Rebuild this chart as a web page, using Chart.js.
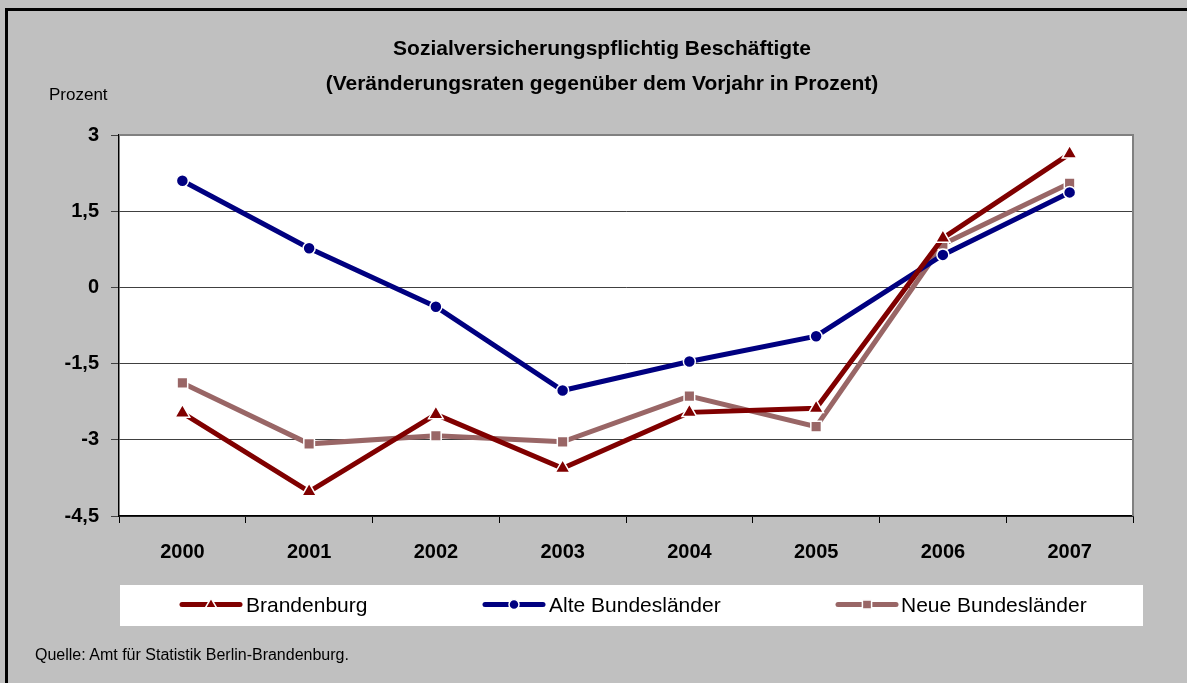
<!DOCTYPE html>
<html>
<head>
<meta charset="utf-8">
<script src="https://cdn.jsdelivr.net/npm/chart.js@4/dist/chart.umd.min.js"></script>
<style>
    body { margin: 0; background: #c0c0c0; font-family: "Liberation Sans Narrow", "Arial Narrow", "Liberation Sans", sans-serif; }
    #wrap { position: relative; width: 1187px; height: 683px; overflow: hidden; }
    canvas { position: absolute; left: 0; top: 0; }
    .txt { position: absolute; white-space: nowrap; color: #000; line-height: 1; }
    .title { left: 0; width: 1204px; text-align: center; font-size: 21px; font-weight: bold; }
    .leg { font-size: 21px; }
</style>
</head>
<body>
<div id="wrap">
    <canvas id="chart" width="1187" height="683"></canvas>
    <div class="txt title" style="top:37px">Sozialversicherungspflichtig Beschäftigte</div>
    <div class="txt title" style="top:72px">(Veränderungsraten gegenüber dem Vorjahr in Prozent)</div>
    <div class="txt" style="left:49px; top:86px; font-size:17px">Prozent</div>
    <div class="txt leg" style="left:246px; top:594px">Brandenburg</div>
    <div class="txt leg" style="left:549px; top:594px">Alte Bundesländer</div>
    <div class="txt leg" style="left:901px; top:594px">Neue Bundesländer</div>
    <div class="txt" style="left:35px; top:647px; font-size:16px">Quelle: Amt für Statistik Berlin-Brandenburg.</div>
</div>
<script>
// Sozialversicherungspflichtig Beschäftigte, Veränderung zum Vorjahr (%)
const years = ['2000', '2001', '2002', '2003', '2004', '2005', '2006', '2007'];
const brandenburg = [-2.47, -4.02, -2.5, -3.56, -2.46, -2.38, 0.97, 2.63];
const alteLaender = [2.1, 0.77, -0.38, -2.03, -1.46, -0.96, 0.64, 1.87];
const neueLaender = [-1.88, -3.08, -2.92, -3.04, -2.14, -2.74, 0.85, 2.05];

const FONT = '"Liberation Sans Narrow", "Arial Narrow", "Liberation Sans", sans-serif';

// legend sample positions (line start x) for each series
const legendSamples = [
    { x: 182, color: '#800000', style: 'triangle', r: 6.5 },
    { x: 485, color: '#000080', style: 'circle', r: 5 },
    { x: 838, color: '#996666', style: 'rect', r: 6.5 }
];

const framePlugin = {
    id: 'frame',
    beforeDraw(chart) {
        const ctx = chart.ctx;
        const a = chart.chartArea;
        ctx.save();
        ctx.fillStyle = '#c0c0c0';
        ctx.fillRect(0, 0, chart.width, chart.height);
        // outer black border
        ctx.strokeStyle = '#000';
        ctx.lineWidth = 3;
        ctx.beginPath();
        ctx.moveTo(6.5, chart.height + 5);
        ctx.lineTo(6.5, 9.5);
        ctx.lineTo(chart.width + 5, 9.5);
        ctx.stroke();
        // plot area
        ctx.fillStyle = '#fff';
        ctx.fillRect(a.left, a.top, a.right - a.left, a.bottom - a.top);
        // legend box
        ctx.fillRect(120, 585, 1023, 41);
        ctx.restore();
    },
    beforeDatasetsDraw(chart) {
        const ctx = chart.ctx;
        const a = chart.chartArea;
        ctx.save();
        ctx.strokeStyle = '#808080';
        ctx.lineWidth = 2;
        ctx.beginPath();
        ctx.moveTo(a.left, a.top);
        ctx.lineTo(a.right, a.top);
        ctx.lineTo(a.right, a.bottom);
        ctx.stroke();
        ctx.restore();
    },
    afterDraw(chart) {
        const ctx = chart.ctx;
        ctx.save();
        legendSamples.forEach(s => {
            ctx.strokeStyle = s.color;
            ctx.lineWidth = 5;
            ctx.lineCap = 'round';
            ctx.beginPath();
            ctx.moveTo(s.x, 604.5);
            ctx.lineTo(s.x + 58, 604.5);
            ctx.stroke();
            ctx.fillStyle = s.color;
            ctx.strokeStyle = '#fff';
            ctx.lineWidth = 1.5;
            Chart.helpers.drawPoint(ctx, { pointStyle: s.style, radius: s.r, rotation: 0, borderWidth: 1.5 }, s.x + 29, 604.5);
        });
        ctx.restore();
    }
};

function makeSet(label, data, color, style, radius) {
    return {
        label: label,
        data: data,
        borderColor: color,
        backgroundColor: color,
        borderWidth: 5,
        pointStyle: style,
        pointRadius: radius,
        pointBackgroundColor: color,
        pointBorderColor: '#fff',
        pointBorderWidth: 1.5,
        tension: 0
    };
}

new Chart(document.getElementById('chart'), {
    type: 'line',
    data: {
        labels: years,
        datasets: [
            makeSet('Brandenburg', brandenburg, '#800000', 'triangle', 8.5),
            makeSet('Alte Bundesländer', alteLaender, '#000080', 'circle', 6),
            makeSet('Neue Bundesländer', neueLaender, '#996666', 'rect', 7.5)
        ]
    },
    options: {
        responsive: false,
        animation: false,
        layout: { padding: { left: 0, right: 54, top: 135, bottom: 107 } },
        plugins: {
            legend: { display: false },
            title: { display: false },
            tooltip: { enabled: false }
        },
        scales: {
            x: {
                offset: true,
                afterFit: scale => { scale.height = 60; },
                grid: { offset: true, drawOnChartArea: false, color: '#000', tickLength: 7 },
                border: { color: '#000', width: 1.5 },
                ticks: { color: '#000', padding: 17, font: { family: FONT, size: 20, weight: 'bold' } }
            },
            y: {
                min: -4.5,
                max: 3,
                afterFit: scale => { scale.width = 119; },
                grid: { color: '#404040', tickLength: 8 },
                border: { color: '#000', width: 1.5 },
                ticks: {
                    stepSize: 1.5,
                    color: '#000',
                    padding: 12,
                    font: { family: FONT, size: 20, weight: 'bold' },
                    callback: v => String(v).replace('.', ',')
                }
            }
        }
    },
    plugins: [framePlugin]
});
</script>
</body>
</html>
